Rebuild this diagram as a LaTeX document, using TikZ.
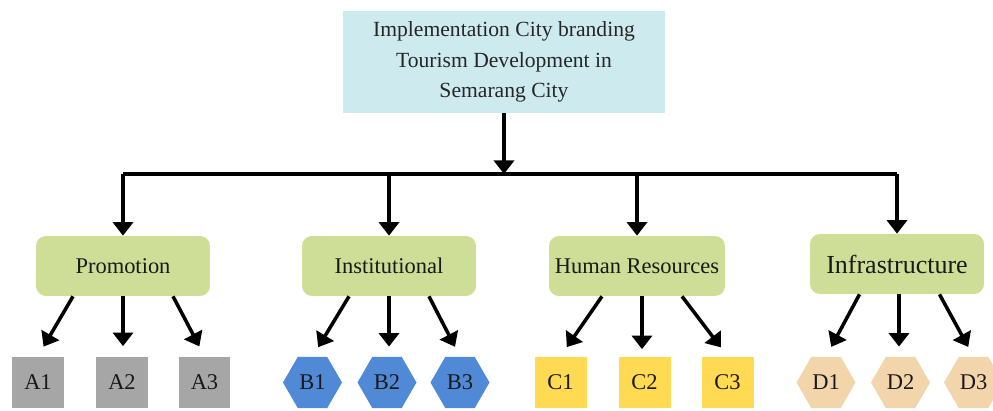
\documentclass[tikz,border=0pt]{standalone}
\usepackage{fontspec}
\setmainfont{Liberation Serif}
\usepackage{tikz}
\usetikzlibrary{arrows.meta, shapes.geometric}
\definecolor{goalcyan}{HTML}{CDEBEE}
\definecolor{critgreen}{HTML}{CEDE97}
\definecolor{altgray}{HTML}{A6A6A6}
\definecolor{altblue}{HTML}{5089D6}
\definecolor{altyellow}{HTML}{FFDA52}
\definecolor{alttan}{HTML}{F2D5AB}

\begin{document}
\begin{tikzpicture}[x=0.02cm, y=-0.02cm,
	goalbox/.style={fill=goalcyan, minimum width=6.44cm, minimum height=2.04cm, align=center, text=black!85, font=\fontsize{12.3}{17.2}\selectfont},
	critbox/.style={fill=critgreen, rounded corners=0.2cm, minimum width=3.48cm, minimum height=1.2cm, text=black!90, font=\fontsize{12.8}{15}\selectfont},
	altsquare/.style={minimum size=1.04cm, inner sep=0pt, text=black!90, font=\fontsize{12.8}{15}\selectfont},
	althex/.style={regular polygon, regular polygon sides=6, minimum size=1.18cm, inner sep=0pt, text=black!90, font=\fontsize{12.8}{15}\selectfont},
	arr/.style={line width=2pt, -{Triangle[width=0.4cm, length=0.27cm]}},
	bar/.style={line width=2pt}]
	\useasboundingbox (0,0) rectangle (993,411);
	% ziel oben
	\node[goalbox] (goal) at (504,62) {Implementation City branding\\Tourism Development in\\Semarang City};
	% kriterien
	\node[critbox] (promo) at (123,266) {Promotion};
	\node[critbox] (inst) at (389,266) {Institutional};
	\node[critbox] (human) at (637,266) {Human Resources};
	\node[critbox, font=\fontsize{14.8}{17}\selectfont] (infra) at (897,264) {Infrastructure};
	% alternativen
	\node[altsquare, fill=altgray] (a1) at (38,382.5) {A1};
	\node[altsquare, fill=altgray] (a2) at (122,382.5) {A2};
	\node[altsquare, fill=altgray] (a3) at (204.5,382.5) {A3};
	\node[althex, fill=altblue] (b1) at (312.5,382.5) {B1};
	\node[althex, fill=altblue] (b2) at (387,382.5) {B2};
	\node[althex, fill=altblue] (b3) at (460,382.5) {B3};
	\node[altsquare, fill=altyellow] (c1) at (560.5,382.5) {C1};
	\node[altsquare, fill=altyellow] (c2) at (644.5,382.5) {C2};
	\node[altsquare, fill=altyellow] (c3) at (727.5,382.5) {C3};
	\node[althex, fill=alttan] (d1) at (826,382.5) {D1};
	\node[althex, fill=alttan] (d2) at (900.5,382.5) {D2};
	\node[althex, fill=alttan] (d3) at (973.5,382.5) {D3};
	% verteiler
	\coordinate (busmid) at (504,174);
	\coordinate (busleft) at (123,174);
	\coordinate (businst) at (389,174);
	\coordinate (bushuman) at (637,174);
	\coordinate (busright) at (897,174);
	\draw[arr] (goal.south) -- (busmid);
	\draw[bar] (busleft) -- (busright);
	\draw[arr] (busleft) -- (promo.north);
	\draw[arr] (businst) -- (inst.north);
	\draw[arr] (bushuman) -- (human.north);
	\draw[arr] (busright) -- (busright |- infra.north);
	% pfeile zu den alternativen
	\draw[arr, shorten >=0.22cm] ([xshift=-1cm]promo.south) -- (a1.north);
	\draw[arr, shorten >=0.2cm] (promo.south) -- (promo.south |- a2.north);
	\draw[arr, shorten >=0.22cm] ([xshift=1cm]promo.south) -- (a3.north);
	\draw[arr, shorten >=0.22cm] ([xshift=-0.8cm]inst.south) -- (b1.north);
	\draw[arr, shorten >=0.2cm] (inst.south) -- (inst.south |- b2.north);
	\draw[arr, shorten >=0.22cm] ([xshift=0.8cm]inst.south) -- (b3.north);
	\draw[arr, shorten >=0.22cm] ([xshift=-0.7cm]human.south) -- (c1.north);
	\draw[arr, shorten >=0.14cm] ([xshift=0.1cm]human.south) -- ([xshift=0.1cm]human.south |- c2.north);
	\draw[arr, shorten >=0.22cm] ([xshift=0.9cm]human.south) -- (c3.north);
	\draw[arr, shorten >=0.22cm] ([xshift=-0.75cm]infra.south) -- (d1.north);
	\draw[arr, shorten >=0.2cm] ([xshift=0.04cm]infra.south) -- ([xshift=0.04cm]infra.south |- d2.north);
	\draw[arr, shorten >=0.22cm] ([xshift=0.85cm]infra.south) -- (d3.north);
\end{tikzpicture}
\end{document}
